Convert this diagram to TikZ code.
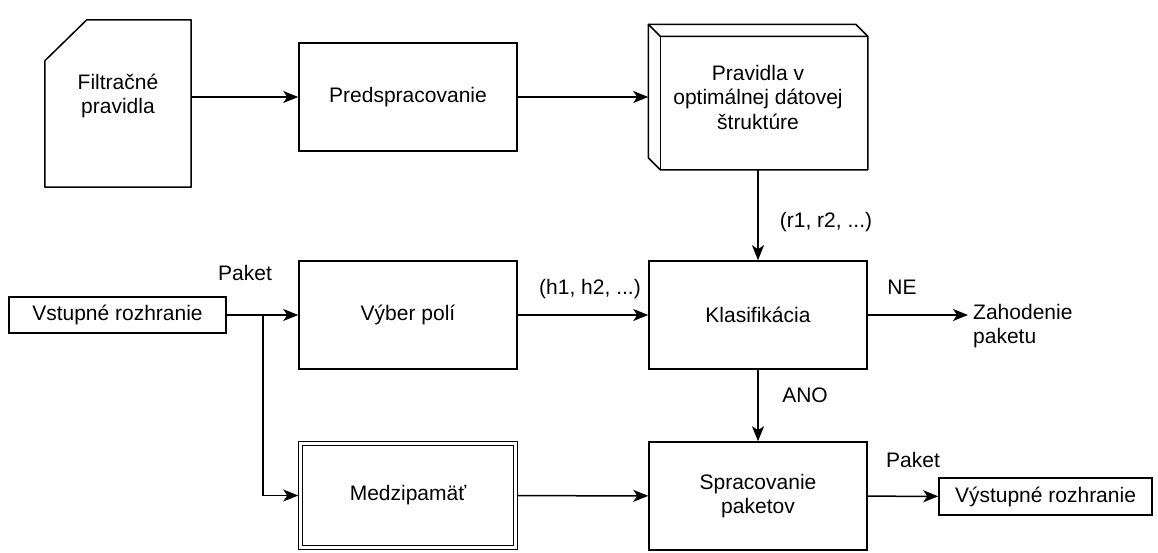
\documentclass[tikz,border=0pt]{standalone}
\usepackage{fontspec}
\setmainfont{Liberation Sans}
\usetikzlibrary{arrows.meta,calc}
\begin{document}
\begin{tikzpicture}[x=1pt,y=-1pt,
  every node/.style={font=\fontsize{21}{24.5}\selectfont, inner sep=0pt},
  box/.style={draw, line width=1.5pt, minimum width=218pt, minimum height=108pt, align=center},
  iface/.style={draw, line width=1.5pt, minimum width=217pt, minimum height=36pt},
  arr/.style={line width=1.5pt, -{Stealth[length=15pt,width=12pt,inset=4pt]}},
  ln/.style={line width=1.5pt, line join=round}]
\useasboundingbox (0,0) rectangle (1158,552);

% card
\node[minimum width=146pt, minimum height=167pt] (fil) at (118,103.5) {};
\draw[ln] (fil.south west) -- (fil.south east) -- (fil.north east) -- ($(fil.north west)+(42,0)$) -- ($(fil.north west)+(0,41)$) -- cycle;
\node[align=center] (filt) at (118,96) {Filtračné\\pravidla};

\node[box] (pre) at (408,97) {Predspracovanie};

\node[box, draw=none, minimum width=218pt, minimum height=144pt] (cube) at (758,97) {Pravidla v\\optimálnej dátovej\\štruktúre};
\draw[ln] (cube.north west) -- ($(cube.north east)+(-12,0)$) -- ($(cube.north east)+(0,12)$) -- (cube.south east) -- ($(cube.south west)+(12,0)$) -- ($(cube.south west)+(0,-12)$) -- cycle;
\draw[ln] (cube.north west) -- ($(cube.north west)+(12,12)$) -- ($(cube.north east)+(0,12)$);
\draw[ln] ($(cube.north west)+(12,12)$) -- ($(cube.south west)+(12,0)$);

\node[iface] (vst) at (117.5,315) {Vstupné rozhranie};
\node[box] (vyb) at (408,315) {Výber polí};
\node[box] (kla) at (758,315) {Klasifikácia};

\node[box, draw=none, minimum height=107pt] (med) at (408,495.5) {Medzipamäť};
\draw[line width=1.2pt] (med.north west) rectangle (med.south east);
\draw[line width=1.2pt] ($(med.north west)+(4,4)$) rectangle ($(med.south east)+(-4,-4)$);

\node[box] (spr) at (758,496) {Spracovanie\\paketov};
\node[iface, minimum width=213pt, minimum height=37pt] (vys) at (1045.5,496.5) {Výstupné rozhranie};
\node[anchor=west, align=left] (zah) at (973,326) {Zahodenie\\paketu};

% labels
\node (p1) at (245,273) {Paket};
\node (h) at (590,289) {(h1, h2, ...)};
\node (r) at (826,222) {(r1, r2, ...)};
\node (ne) at (902,287) {NE};
\node (ano) at (805,395) {ANO};
\node (p2) at (913,460) {Paket};

% connectors
\coordinate (br) at (263,315);
\coordinate (zend) at (968,315);
\draw[arr] (fil.east |- pre.west) -- (pre.west);
\draw[arr] (pre) -- (cube);
\draw[arr] (cube) -- (kla);
\draw[arr] (vst) -- (vyb);
\draw[arr] (br) |- (med);
\draw[arr] (vyb) -- (kla);
\draw[arr] (kla.east) -- (zend);
\draw[arr] (kla) -- (spr);
\draw[arr] (med) -- (spr);
\draw[arr] (spr) -- (vys);
\end{tikzpicture}
\end{document}
